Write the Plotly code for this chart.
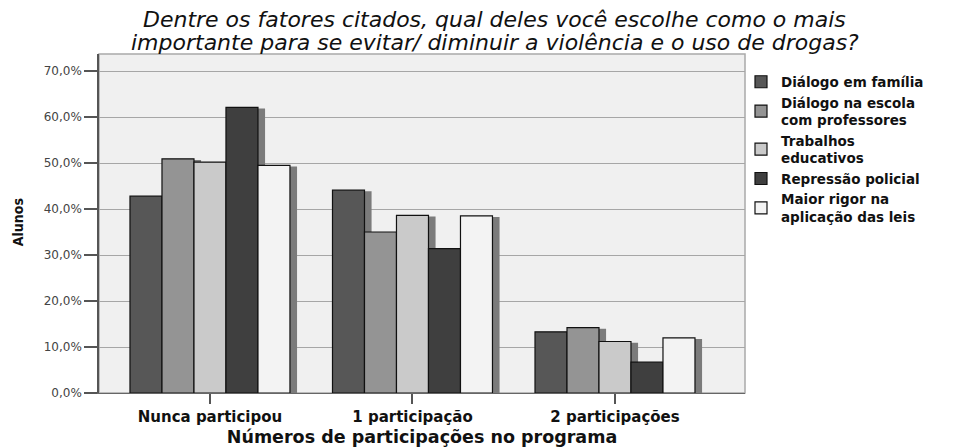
import plotly.graph_objects as go

# Answer shares (% of students) per number of participations in the programme
categories = ["Nunca participou", "1 participação", "2 participações"]

series_names = [
    "Diálogo em família",
    "Diálogo na escola<br>com professores",
    "Trabalhos<br>educativos",
    "Repressão policial",
    "Maior rigor na<br>aplicação das leis",
]
dialogo_familia = [42.8, 44.1, 13.3]
dialogo_escola = [50.9, 35.0, 14.2]
trabalhos_educativos = [50.2, 38.6, 11.2]
repressao_policial = [62.1, 31.4, 6.7]
maior_rigor = [49.5, 38.5, 12.0]

y_ticks = [0, 10, 20, 30, 40, 50, 60, 70]
y_tick_labels = [f"{v:.1f}".replace(".", ",") + "%" for v in y_ticks]

series_values = [dialogo_familia, dialogo_escola, trabalhos_educativos,
                 repressao_policial, maior_rigor]
fill_colors = ["#575757", "#949494", "#cacaca", "#3f3f3f", "#f3f3f3"]

BAR_W = 0.158
SHADOW_DX = 0.035
SHADOW_DROP = 0.25
FONT = "DejaVu Sans, Verdana, Arial, sans-serif"

fig = go.Figure()

offsets = [-2.5 * BAR_W + i * BAR_W for i in range(len(series_values))]

# drop shadows sit behind each bar, shifted to the right
for vals, off in zip(series_values, offsets):
    fig.add_trace(go.Bar(
        x=categories, y=vals, base=-SHADOW_DROP,
        width=BAR_W, offset=off + SHADOW_DX,
        marker=dict(color="#7b7b7b", line=dict(width=0)),
        showlegend=False, hoverinfo="skip",
    ))

for name, vals, off, col in zip(series_names, series_values, offsets, fill_colors):
    fig.add_trace(go.Bar(
        x=categories, y=vals, name=name,
        width=BAR_W, offset=off,
        marker=dict(color=col, line=dict(color="#111111", width=1.2)),
    ))

fig.update_layout(
    width=959, height=447,
    margin=dict(l=99, r=214, t=54, b=53.5, autoexpand=False),
    barmode="overlay",
    paper_bgcolor="white",
    plot_bgcolor="#f0f0f0",
    font=dict(family=FONT, color="#222222"),
    showlegend=True,
    legend=dict(
        x=0.9938, y=0.9632, xanchor="left", yanchor="top",
        font=dict(family=FONT, size=13.5, color="#111111", weight="bold"),
        bgcolor="rgba(0,0,0,0)", itemwidth=30, valign="middle",
        tracegroupgap=0,
    ),
    xaxis=dict(
        type="category", categoryorder="array", categoryarray=categories,
        range=[-0.548, 2.642],
        showgrid=False, zeroline=False,
        showline=True, linecolor="#666666", linewidth=1.2,
        ticks="outside", ticklen=10, tickwidth=1.5, tickcolor="#555555",
        tickfont=dict(family=FONT, size=15, color="#111111", weight="bold"),
        title=dict(text="Números de participações no programa",
                   font=dict(family=FONT, size=17.5, color="#111111", weight="bold"),
                   standoff=7),
    ),
    yaxis=dict(
        range=[0, 73.7],
        tickvals=y_ticks, ticktext=y_tick_labels,
        showgrid=True, gridcolor="#a6a6a6", gridwidth=1,
        zeroline=False,
        showline=True, linecolor="#555555", linewidth=1.5,
        ticks="outside", ticklen=13, tickwidth=1.5, tickcolor="#555555",
        tickfont=dict(family=FONT, size=12, color="#444444"),
    ),
    shapes=[dict(type="rect", xref="paper", yref="paper", x0=0, x1=1, y0=0, y1=1,
                 line=dict(color="#a9a9a9", width=1.5), layer="below")],
    annotations=[
        dict(text="Dentre os fatores citados, qual deles você escolhe como o mais",
             xref="paper", yref="paper", x=0.613, y=1.103,
             xanchor="center", yanchor="middle", showarrow=False,
             font=dict(family=FONT, size=22, color="#111111", style="italic")),
        dict(text="importante para se evitar/ diminuir a violência e o uso de drogas?",
             xref="paper", yref="paper", x=0.613, y=1.0353,
             xanchor="center", yanchor="middle", showarrow=False,
             font=dict(family=FONT, size=22, color="#111111", style="italic")),
        dict(text="Alunos", textangle=-90,
             xref="paper", yref="paper", x=-0.1254, y=0.5037,
             xanchor="center", yanchor="middle", showarrow=False,
             font=dict(family="Liberation Sans Narrow, DejaVu Sans Condensed, Arial Narrow, sans-serif",
                       size=14, color="#111111", weight="bold")),
    ],
)

fig.write_html("out.html")
